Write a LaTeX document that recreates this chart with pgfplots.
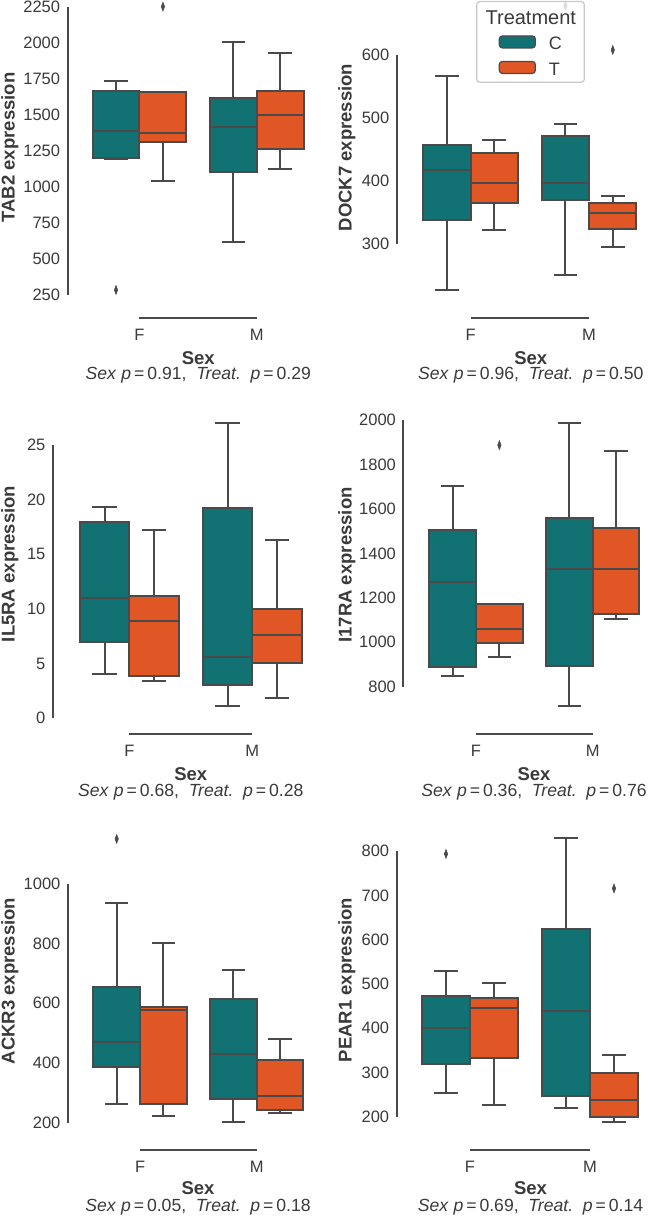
\documentclass[border=0pt]{standalone}
\usepackage{fontspec}
\setmainfont{Liberation Sans}
\usepackage{pgfplots}
\pgfplotsset{compat=1.18}
\definecolor{cC}{HTML}{127172}
\definecolor{cT}{HTML}{E05624}
\definecolor{edge}{HTML}{4A4A4A}
\definecolor{txt}{HTML}{3A3A3A}
\definecolor{legframe}{HTML}{C8C8C8}
\newcommand{\tickfont}{\fontsize{8.25pt}{9.9pt}\selectfont}
\newcommand{\labfont}{\fontsize{9.25pt}{11pt}\selectfont\bfseries}
\newcommand{\pfont}{\fontsize{8.8pt}{11pt}\selectfont}
\pgfplotsset{
  panel/.style={scale only axis, anchor=south west, clip=false,
    axis line style={draw=none}, tick style={draw=none},
    unbounded coords=jump,
    xtick={0,1}, xticklabels={F,M},
    tick label style={font=\tickfont, text=txt},
    /pgf/number format/assume math mode=true, /pgf/number format/1000 sep={},
    yticklabel style={anchor=east, inner sep=0pt, xshift=-3.5pt},
    xticklabel style={anchor=base, inner sep=0pt, yshift=-11.15pt},
    enlargelimits=false, xmax=1.5},
  outl/.style={only marks, forget plot, mark=diamond*, mark size=2.2pt,
    mark options={fill=edge, draw=edge, xscale=0.5, line width=0.3pt, solid}},
}
% #1 position, #2 colour, #3 lower whisker, #4 Q1, #5 median, #6 Q3, #7 upper whisker
\newcommand{\bx}[7]{%
  \pgfmathsetmacro\xa{#1-0.2}\pgfmathsetmacro\xb{#1+0.2}%
  \pgfmathsetmacro\ca{#1-0.1}\pgfmathsetmacro\cb{#1+0.1}%
  \addplot[forget plot, draw=edge, line width=1pt, mark=none] coordinates {(#1,#3) (#1,#4) (nan,nan) (#1,#6) (#1,#7) (nan,nan) (\ca,#3) (\cb,#3) (nan,nan) (\ca,#7) (\cb,#7)};
  \addplot[forget plot, draw=edge, fill=#2, line width=1pt, mark=none] coordinates {(\xa,#4) (\xb,#4) (\xb,#6) (\xa,#6)} -- cycle;
  \addplot[forget plot, draw=edge, line width=1pt, mark=none] coordinates {(\xa,#5) (\xb,#5)};
}
\newcommand{\outl}[2]{\addplot[outl] coordinates {(#1,#2)};}
\newcommand{\spines}[4]{% xmin, ymin, ylow tick, yhigh tick
  \draw[edge, line width=1pt] (axis cs:#1,#3) -- (axis cs:#1,#4);
  \draw[edge, line width=1pt] (axis cs:0,#2) -- (axis cs:1,#2);}
\begin{document}
\begin{tikzpicture}
\path[use as bounding box] (0,0) rectangle (324.5pt,609pt);
% ---------- Panel 1: TAB2
\begin{axis}[panel, at={(33.75pt,450pt)}, width=123.9pt, height=159pt,
  xmin=-0.614, ymin=90.1, ymax=2301, ytick={250,500,...,2250}]
\bx{-0.2}{cC}{1196}{1203}{1393}{1671}{1738}
\bx{0.2}{cT}{1043}{1316}{1379}{1664}{1664}
\bx{0.8}{cC}{617}{1105}{1421}{1617}{2011}
\bx{1.2}{cT}{1129}{1263}{1504}{1666}{1935}
\outl{-0.2}{285}
\outl{0.2}{2255}
\spines{-0.614}{90.1}{250}{2250}
\end{axis}
% ---------- Panel 2: DOCK7
\begin{axis}[panel, at={(198.35pt,450pt)}, width=125.8pt, height=159pt,
  xmin=-0.624, ymin=183.2, ymax=687.2, ytick={300,400,500,600},
  legend style={at={(axis description cs:0.318,0.995)}, anchor=north west,
    draw=legframe, line width=0.6pt, fill=white, fill opacity=0.8,
    draw opacity=1, text opacity=1, rounded corners=1.5pt,
    inner xsep=4.15pt, inner ysep=2pt, outer sep=0pt,
    row sep=1.9pt, column sep=6.5pt, nodes={inner sep=0pt},
    font=\fontsize{9pt}{11pt}\selectfont, text=txt},
  legend cell align=left]
\bx{-0.2}{cC}{228}{338}{418}{458}{566}
\bx{0.2}{cT}{323}{366}{397}{445}{466}
\bx{0.8}{cC}{251}{370}{397}{472}{491}
\bx{1.2}{cT}{296}{324}{349}{366}{377}
\outl{0.8}{678}
\outl{1.2}{608}
\spines{-0.624}{183.2}{300}{600}
\addlegendimage{empty legend}
\addlegendentry[font=\fontsize{10pt}{12pt}\selectfont]{\hspace{-31.65pt}Treatment\rule[-2.85pt]{0pt}{12.2pt}}
\addlegendimage{legend image code/.code={\path (0pt,0pt); \draw[fill=cC, draw=edge, line width=0.6pt, fill opacity=1] (6.85pt,-3pt) rectangle (24.85pt,3pt);}}
\addlegendentry{C\rule[-2.85pt]{0pt}{12.2pt}}
\addlegendimage{legend image code/.code={\path (0pt,0pt); \draw[fill=cT, draw=edge, line width=0.6pt, fill opacity=1] (6.85pt,-3pt) rectangle (24.85pt,3pt);}}
\addlegendentry{T\rule[-2.85pt]{0pt}{12.2pt}}
\end{axis}
% ---------- Panel 3: IL5RA
\begin{axis}[panel, at={(26.4pt,241.85pt)}, width=130.5pt, height=169.65pt,
  xmin=-0.622, ymin=-1.464, ymax=29.58, ytick={0,5,...,25}]
\bx{-0.2}{cC}{4.05}{6.95}{11.04}{17.99}{19.33}
\bx{0.2}{cT}{3.45}{3.9}{8.9}{11.16}{17.23}
\bx{0.8}{cC}{1.13}{3.08}{5.64}{19.24}{27.04}
\bx{1.2}{cT}{1.86}{5.03}{7.65}{10.03}{16.31}
\spines{-0.622}{-1.464}{0}{25}
\end{axis}
% ---------- Panel 4: I17RA
\begin{axis}[panel, at={(201.65pt,241.85pt)}, width=123.9pt, height=169.65pt,
  xmin=-0.623, ymin=585.8, ymax=2112.5, ytick={800,1000,...,2000}]
\bx{-0.2}{cC}{846}{888}{1269}{1505}{1704}
\bx{0.2}{cT}{935}{996}{1059}{1173}{1173}
\bx{0.8}{cC}{714}{891}{1329}{1560}{1988}
\bx{1.2}{cT}{1106}{1125}{1328}{1512}{1860}
\outl{0.2}{1887}
\spines{-0.623}{585.8}{800}{2000}
\end{axis}
% ---------- Panel 5: ACKR3
\begin{axis}[panel, at={(33.9pt,34pt)}, width=123.65pt, height=175pt,
  xmin=-0.619, ymin=108.6, ymax=1280.2, ytick={200,400,...,1000}]
\bx{-0.2}{cC}{261}{388}{471}{655}{934}
\bx{0.2}{cT}{222}{261}{577}{588}{800}
\bx{0.8}{cC}{202}{278}{431}{614}{711}
\bx{1.2}{cT}{234}{242}{288}{410}{479}
\outl{-0.2}{1150}
\spines{-0.619}{108.6}{200}{1000}
\end{axis}
% ---------- Panel 6: PEAR1
\begin{axis}[panel, at={(198.25pt,34pt)}, width=126.75pt, height=175pt,
  xmin=-0.6125, ymin=124.7, ymax=916, ytick={200,300,...,800}]
\bx{-0.2}{cC}{253}{318}{400}{473}{529}
\bx{0.2}{cT}{226}{332}{445}{468}{503}
\bx{0.8}{cC}{219}{246}{440}{625}{829}
\bx{1.2}{cT}{189}{198.5}{238}{298}{339}
\outl{-0.2}{794}
\outl{1.2}{716}
\spines{-0.6125}{124.7}{200}{800}
\end{axis}
% ---------- labels
\begin{scope}[every node/.style={text=txt}]
\node[rotate=90, anchor=base, font=\labfont] at (7.35pt,535.25pt) {TAB2 expression};
\node[rotate=90, anchor=base, font=\labfont] at (175.75pt,535.25pt) {DOCK7 expression};
\node[rotate=90, anchor=base, font=\labfont] at (7.35pt,327pt) {IL5RA expression};
\node[rotate=90, anchor=base, font=\labfont] at (175.75pt,326.5pt) {I17RA expression};
\node[rotate=90, anchor=base, font=\labfont] at (7.35pt,118.5pt) {ACKR3 expression};
\node[rotate=90, anchor=base, font=\labfont] at (175.75pt,119pt) {PEAR1 expression};
\node[anchor=base, font=\labfont] at (99.15pt,426.75pt) {Sex};
\node[anchor=base, font=\labfont] at (265.4pt,426.75pt) {Sex};
\node[anchor=base, font=\labfont] at (95.4pt,218.6pt) {Sex};
\node[anchor=base, font=\labfont] at (267pt,218.6pt) {Sex};
\node[anchor=base, font=\labfont] at (99pt,11.75pt) {Sex};
\node[anchor=base, font=\labfont] at (265.25pt,11.75pt) {Sex};
\node[anchor=base, font=\pfont] at (99.15pt,419pt) {\textit{Sex} \textit{p}\,=\,0.91,\ \ \textit{Treat.}\ \ \textit{p}\,=\,0.29};
\node[anchor=base, font=\pfont] at (265.4pt,419pt) {\textit{Sex} \textit{p}\,=\,0.96,\ \ \textit{Treat.}\ \ \textit{p}\,=\,0.50};
\node[anchor=base, font=\pfont] at (95.4pt,210.85pt) {\textit{Sex} \textit{p}\,=\,0.68,\ \ \textit{Treat.}\ \ \textit{p}\,=\,0.28};
\node[anchor=base, font=\pfont] at (267pt,210.85pt) {\textit{Sex} \textit{p}\,=\,0.36,\ \ \textit{Treat.}\ \ \textit{p}\,=\,0.76};
\node[anchor=base, font=\pfont] at (99pt,3pt) {\textit{Sex} \textit{p}\,=\,0.05,\ \ \textit{Treat.}\ \ \textit{p}\,=\,0.18};
\node[anchor=base, font=\pfont] at (265.25pt,3pt) {\textit{Sex} \textit{p}\,=\,0.69,\ \ \textit{Treat.}\ \ \textit{p}\,=\,0.14};
\end{scope}
\end{tikzpicture}
\end{document}
